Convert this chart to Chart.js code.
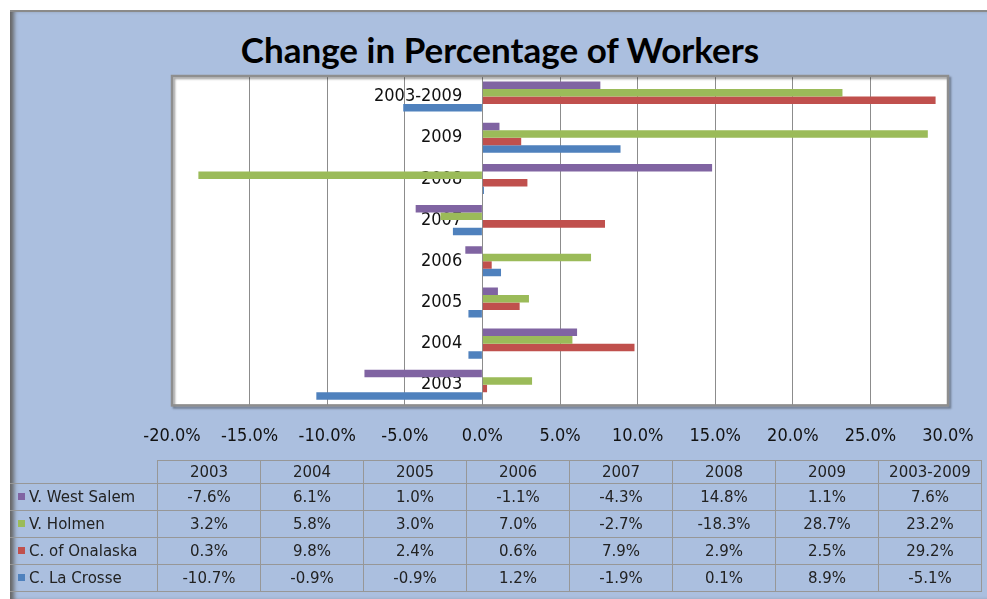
<!DOCTYPE html>
<html>
<head>
<meta charset="utf-8">
<script src="https://cdn.jsdelivr.net/npm/chart.js@4.4.1/dist/chart.umd.min.js"></script>
<style>
  html, body { margin: 0; padding: 0; background: #fff; width: 987px; height: 599px; overflow: hidden; }
  #frame {
    position: absolute; left: 10px; top: 10px; width: 977px; height: 589px;
    background: #abbfdf; border-top: 2px solid #8a8a8a; box-sizing: border-box;
    box-shadow: inset 6px 0 4px -2px #666;
  }
  #title {
    position: absolute; left: 0; top: 28px; width: 1000px; text-align: center;
    font: bold 35px Lato, "Open Sans", sans-serif; color: #000;
  }
  #chartBox { position: absolute; left: 0; top: 0; width: 987px; height: 481px; }
  #dataTable {
    position: absolute; left: 10px; top: 460px; border-collapse: collapse;
    font: 15px "DejaVu Sans", Verdana, sans-serif; color: #222;
  }
  #dataTable td { border: 1px solid #979797; text-align: center; padding: 0; height: 26px; width: 102px; }
  #dataTable tr.head td { height: 22px; }
  #dataTable td.blank { border: none; width: 147px; }
  #dataTable td.name { text-align: left; border-left: none; padding-left: 8px; width: 139px; }
  .key { display: inline-block; width: 7px; height: 7px; margin-right: 4px; vertical-align: 2px; }
</style>
</head>
<body>
<div id="frame"></div>
<div id="title">Change in Percentage of Workers</div>
<div id="chartBox"><canvas id="chart"></canvas></div>
<table id="dataTable"></table>

<script>
// ---- data (percent) ----
const categories = ['2003', '2004', '2005', '2006', '2007', '2008', '2009', '2003-2009'];
const seriesNames = ['V. West Salem', 'V. Holmen', 'C. of Onalaska', 'C. La Crosse'];
const westSalem = [-7.6, 6.1, 1.0, -1.1, -4.3, 14.8, 1.1, 7.6];
const holmen    = [3.2, 5.8, 3.0, 7.0, -2.7, -18.3, 28.7, 23.2];
const onalaska  = [0.3, 9.8, 2.4, 0.6, 7.9, 2.9, 2.5, 29.2];
const laCrosse  = [-10.7, -0.9, -0.9, 1.2, -1.9, 0.1, 8.9, -5.1];
const seriesValues = [westSalem, holmen, onalaska, laCrosse];
const xMin = -20, xMax = 30, xStep = 5;

const colors = ['#8064a2', '#9bbb59', '#c0504d', '#4f81bd'];
const pct = v => v.toFixed(1) + '%';

// white plot area + grey frame, like the Excel chart
const plotFrame = {
  id: 'plotFrame',
  beforeDraw(chart) {
    const { ctx, chartArea: a } = chart;
    ctx.save();
    ctx.fillStyle = '#fff';
    ctx.fillRect(a.left, a.top, a.width, a.height);
    ctx.restore();
  },
  afterDraw(chart) {
    const { ctx, chartArea: a } = chart;
    ctx.save();
    ctx.shadowColor = 'rgba(0,0,0,0.35)';
    ctx.shadowOffsetX = 2;
    ctx.shadowOffsetY = 2;
    ctx.shadowBlur = 2;
    ctx.strokeStyle = '#8e8e8e';
    ctx.lineWidth = 2.5;
    ctx.strokeRect(a.left, a.top, a.width, a.height);
    ctx.restore();
  }
};

new Chart(document.getElementById('chart'), {
  type: 'bar',
  data: {
    labels: categories,
    datasets: seriesNames.map((name, i) => ({
      label: name,
      data: seriesValues[i],
      backgroundColor: colors[i],
      borderWidth: 0,
      categoryPercentage: 0.73,
      barPercentage: 1.0
    }))
  },
  options: {
    indexAxis: 'y',
    responsive: true,
    maintainAspectRatio: false,
    animation: false,
    layout: { padding: { left: 172, right: 39, top: 76, bottom: 14 } },
    plugins: {
      legend: { display: false },
      tooltip: { enabled: false }
    },
    scales: {
      x: {
        min: xMin, max: xMax,
        // the tick padding would otherwise also widen the right margin
        afterFit: s => { s.paddingRight = 0; s.paddingLeft = 0; },
        ticks: {
          stepSize: xStep,
          callback: v => pct(v),
          color: '#111',
          padding: 20,
          font: { family: 'DejaVu Sans Condensed', size: 18 }
        },
        grid: { color: '#8c8c8c', drawTicks: false },
        border: { display: false }
      },
      y: {
        reverse: true,
        // category labels sit just left of the zero line, inside the plot
        position: { x: -1.3 },
        z: 1,
        grid: { display: false },
        border: { display: false },
        ticks: {
          color: '#111',
          font: { family: 'DejaVu Sans Condensed', size: 18 }
        }
      }
    }
  },
  plugins: [plotFrame]
});

// data table under the chart
const table = document.getElementById('dataTable');
let html = '<tr class="head"><td class="blank"></td>' + categories.map(c => `<td>${c}</td>`).join('') + '</tr>';
seriesNames.forEach((name, i) => {
  html += `<tr><td class="name"><span class="key" style="background:${colors[i]}"></span>${name}</td>` +
    seriesValues[i].map(v => `<td>${pct(v)}</td>`).join('') + '</tr>';
});
table.innerHTML = html;
</script>
</body>
</html>
